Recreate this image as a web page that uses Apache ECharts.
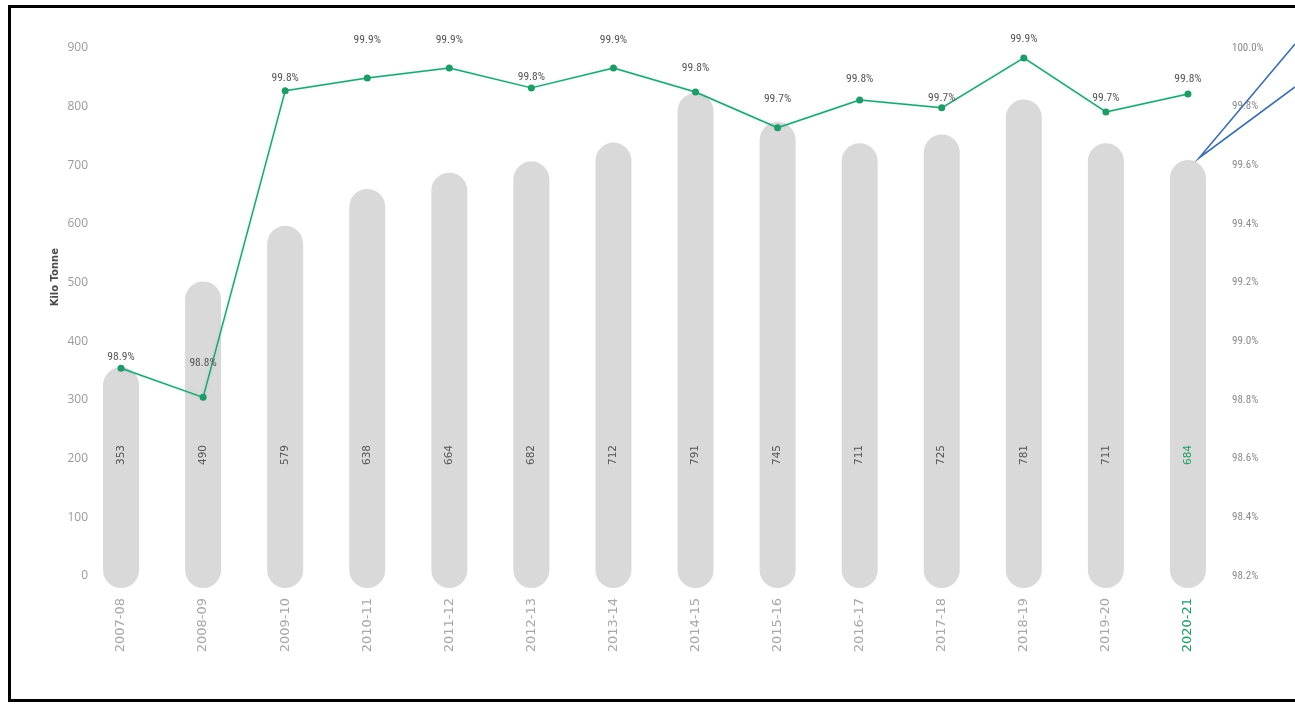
<!DOCTYPE html>
<html>
<head>
<meta charset="utf-8">
<script src="https://cdn.jsdelivr.net/npm/echarts@6/dist/echarts.min.js"></script>
<style>
  html, body { margin: 0; padding: 0; background: #fff; }
  #chart { width: 1295px; height: 704px; }
</style>
</head>
<body>
<div id="chart"></div>
<script>
// ---- data ----
const categories = ['2007-08','2008-09','2009-10','2010-11','2011-12','2012-13','2013-14','2014-15','2015-16','2016-17','2017-18','2018-19','2019-20','2020-21'];
const kiloTonne = [353, 490, 579, 638, 664, 682, 712, 791, 745, 711, 725, 781, 711, 684];
const percentValues = [98.908, 98.809, 99.854, 99.898, 99.932, 99.864, 99.932, 99.850, 99.728, 99.823, 99.796, 99.966, 99.782, 99.843];
const percentLabels = ['98.9%','98.8%','99.8%','99.9%','99.9%','99.8%','99.9%','99.8%','99.7%','99.8%','99.7%','99.9%','99.7%','99.8%'];
const leftTicks = { min: 0, max: 900, interval: 100 };
const rightTicks = { min: 98.2, max: 100.0, interval: 0.2 };
const yAxisTitle = 'Kilo Tonne';

// ---- styling / layout (not data) ----
const labelLift = [16, 39, 17, 42, 32, 15, 32, 28, 33, 25, 14, 23, 18, 19];
const highlightIdx = categories.length - 1;
const green = '#1f9a68';
const narrow = '"Liberation Sans Narrow", "Roboto Condensed", "Open Sans", sans-serif';

const chart = echarts.init(document.getElementById('chart'), null, { renderer: 'canvas' });

const option = {
  backgroundColor: '#ffffff',
  animation: false,
  grid: [
    { left: 80, right: 66, top: 48, bottom: 128 },   // visible axes + line
    { left: 80, right: 66, top: 25, bottom: 116 }    // bars
  ],
  xAxis: [
    { type: 'category', gridIndex: 0, data: categories, show: false },
    {
      type: 'category', gridIndex: 1, data: categories,
      axisLine: { show: false }, axisTick: { show: false },
      axisLabel: {
        rotate: 90, margin: 10, fontSize: 13,
        fontFamily: '"DejaVu Sans", sans-serif',
        color: function (v, i) { return v === categories[highlightIdx] ? green : '#a8a8a8'; }
      }
    }
  ],
  yAxis: [
    {
      type: 'value', gridIndex: 0, min: leftTicks.min, max: leftTicks.max, interval: leftTicks.interval,
      axisLine: { show: false }, axisTick: { show: false }, splitLine: { show: false },
      axisLabel: { margin: -8, fontSize: 12, color: '#9a9a9a', fontFamily: '"Open Sans", sans-serif' }
    },
    {
      type: 'value', gridIndex: 0, position: 'right', min: rightTicks.min, max: rightTicks.max, interval: rightTicks.interval,
      axisLine: { show: false }, axisTick: { show: false }, splitLine: { show: false },
      axisLabel: {
        margin: 3, fontSize: 11, color: '#8a8a8a', fontFamily: narrow,
        formatter: function (v) { return v.toFixed(1) + '%'; }
      }
    },
    {
      type: 'value', gridIndex: 1, min: leftTicks.min, max: leftTicks.max, show: false
    }
  ],
  graphic: [
    {
      type: 'text', left: 50, top: 248, rotation: Math.PI / 2,
      style: { text: yAxisTitle, fontSize: 10, fontWeight: 'bold', fill: '#4a4a4a', fontFamily: '"DejaVu Sans", sans-serif' }
    },
    {
      type: 'rect', shape: { x: 9.5, y: 6.5, width: 1292, height: 694 },
      style: { fill: 'none', stroke: '#000', lineWidth: 3 }, z: 100
    },
    {
      type: 'polyline', shape: { points: [[1295, 44], [1199, 158], [1295, 87]] },
      style: { fill: 'none', stroke: '#3f6fa6', lineWidth: 1.6 }, z: 100
    }
  ],
  series: [
    {
      type: 'bar', xAxisIndex: 1, yAxisIndex: 2,
      data: kiloTonne.map(function (v, i) {
        return {
          value: v,
          label: { color: i === highlightIdx ? green : '#555555' }
        };
      }),
      barWidth: 36,
      itemStyle: { color: '#d9d9d9', borderRadius: 18 },
      label: {
        show: true, position: 'insideBottom', distance: 133, rotate: 90,
        align: 'center', verticalAlign: 'middle',
        fontSize: 10.5, fontFamily: '"DejaVu Sans", sans-serif'
      },
      z: 1
    },
    {
      type: 'line', xAxisIndex: 0, yAxisIndex: 1,
      data: percentValues.map(function (v, i) {
        return {
          value: v,
          label: { offset: [0, -labelLift[i] + 8] }
        };
      }),
      symbol: 'circle', symbolSize: 7,
      lineStyle: { color: '#2e9b70', width: 1.5, shadowColor: 'rgba(0,230,180,0.35)', shadowBlur: 3 },
      itemStyle: { color: green },
      label: {
        show: true, position: 'top', distance: 0,
        verticalAlign: 'middle',
        fontSize: 11.5, color: '#555555', fontFamily: narrow,
        formatter: function (p) { return percentLabels[p.dataIndex]; }
      },
      z: 5
    }
  ]
};

chart.setOption(option);
</script>
</body>
</html>
